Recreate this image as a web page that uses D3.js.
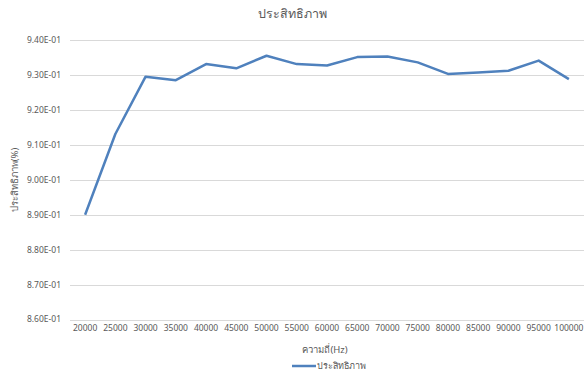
<!DOCTYPE html>
<meta charset="utf-8">
<style>
  body { margin: 0; background: #fff; }
  svg text { font-family: "Noto Sans", "DejaVu Sans", sans-serif; fill: #595959; }
  .grid line { stroke: #d9d9d9; stroke-width: 1; }
</style>
<svg width="584" height="374"></svg>
<script src="https://d3js.org/d3.v7.min.js"></script>
<script>
  // data
  var freqs = ["20000", "25000", "30000", "35000", "40000", "45000", "50000", "55000", "60000",
    "65000", "70000", "75000", "80000", "85000", "90000", "95000", "100000"];
  var efficiency = [0.8900, 0.9131, 0.9295, 0.9285, 0.9331, 0.9319, 0.9355, 0.9331, 0.9327,
    0.9351, 0.9353, 0.9336, 0.9303, 0.9307, 0.9312, 0.9341, 0.9288];
  var yTicks = [0.86, 0.87, 0.88, 0.89, 0.90, 0.91, 0.92, 0.93, 0.94];
  var seriesName = "ประสิทธิภาพ";

  var svg = d3.select("svg"),
    width = +svg.attr("width"),
    height = +svg.attr("height");

  var margin = { top: 40, right: 0, bottom: 54, left: 70 };

  var x = d3.scaleBand()
    .domain(freqs)
    .range([margin.left, width - margin.right]);

  var y = d3.scaleLinear()
    .domain([0.86, 0.94])
    .range([height - margin.bottom - 0.5, margin.top]);

  function sci(v) {
    // Excel-style 9.40E-01
    var s = v.toExponential(2).toUpperCase();
    return s.replace(/E([+-])(\d)$/, "E$10$2");
  }

  // gridlines
  svg.append("g")
    .attr("class", "grid")
    .selectAll("line")
    .data(yTicks)
    .enter().append("line")
    .attr("x1", margin.left)
    .attr("x2", width - margin.right)
    .attr("y1", function(d) { return Math.round(y(d)) + 0.5; })
    .attr("y2", function(d) { return Math.round(y(d)) + 0.5; });

  // y tick labels
  svg.append("g")
    .selectAll("text")
    .data(yTicks)
    .enter().append("text")
    .attr("x", 61)
    .attr("y", function(d) { return y(d); })
    .attr("dy", "0.35em")
    .attr("text-anchor", "end")
    .style("font-size", "8.5px")
    .text(sci);

  // x tick labels
  svg.append("g")
    .selectAll("text")
    .data(freqs)
    .enter().append("text")
    .attr("x", function(d) { return x(d) + x.bandwidth() / 2; })
    .attr("y", 331)
    .attr("text-anchor", "middle")
    .style("font-size", "8.5px")
    .text(function(d) { return d; });

  // line
  var line = d3.line()
    .x(function(d, i) { return x(freqs[i]) + x.bandwidth() / 2; })
    .y(function(d) { return y(d); });

  svg.append("path")
    .datum(efficiency)
    .attr("fill", "none")
    .attr("stroke", "#4f81bd")
    .attr("stroke-width", 2.5)
    .attr("stroke-linejoin", "round")
    .attr("d", line);

  // title
  svg.append("text")
    .attr("x", 292)
    .attr("y", 18)
    .attr("text-anchor", "middle")
    .style("font-size", "12.5px")
    .text(seriesName);

  // axis titles
  svg.append("text")
    .attr("x", 325)
    .attr("y", 353)
    .attr("text-anchor", "middle")
    .style("font-size", "9.5px")
    .text("ความถี่(Hz)");

  svg.append("text")
    .attr("transform", "translate(18,180) rotate(-90)")
    .attr("text-anchor", "middle")
    .style("font-size", "9.5px")
    .text("ประสิทธิภาพ(%)");

  // legend
  var legend = svg.append("g").attr("transform", "translate(292,366)");
  legend.append("line")
    .attr("x1", 0).attr("x2", 24)
    .attr("stroke", "#4f81bd")
    .attr("stroke-width", 2.5);
  legend.append("text")
    .attr("x", 25)
    .attr("dy", "0.35em")
    .style("font-size", "9px")
    .text(seriesName);
</script>
